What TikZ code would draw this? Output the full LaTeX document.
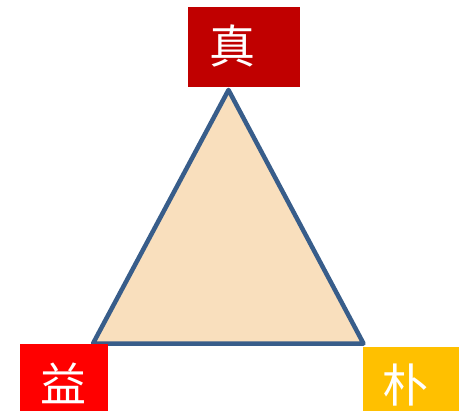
\documentclass[tikz,border=0pt]{standalone}
\usepackage{fontspec}
\newfontfamily\cjk{Noto Sans CJK SC}
\definecolor{tri}{HTML}{F9DFBD}
\definecolor{edge}{HTML}{385D8A}
\definecolor{boxa}{HTML}{C00000}
\definecolor{boxb}{HTML}{FF0000}
\definecolor{boxc}{HTML}{FFC000}
\tikzset{
  lbl/.style={text=white, font=\cjk\fontsize{46}{46}\selectfont, inner sep=0pt, anchor=center},
  bx/.style={draw=none}
}
\begin{document}
\begin{tikzpicture}[x=1pt,y=-1pt]
\useasboundingbox (0,0) rectangle (465,411);
\coordinate (A) at (228.5,90);
\coordinate (B) at (93,343.5);
\coordinate (C) at (363.5,343.5);
\filldraw[fill=tri, draw=edge, line width=4.5pt, line join=round] (A) -- (B) -- (C) -- cycle;
\fill[boxa] (188,7) rectangle (300,87);
\fill[boxb] (20,344) rectangle (108,411);
\fill[boxc] (363,347) rectangle (459,411);
\node[lbl] (zhen) at (232,46) {真};
\node[lbl] (yi) at (63,383) {益};
\node[lbl] (pu) at (405,385) {朴};
\end{tikzpicture}
\end{document}
